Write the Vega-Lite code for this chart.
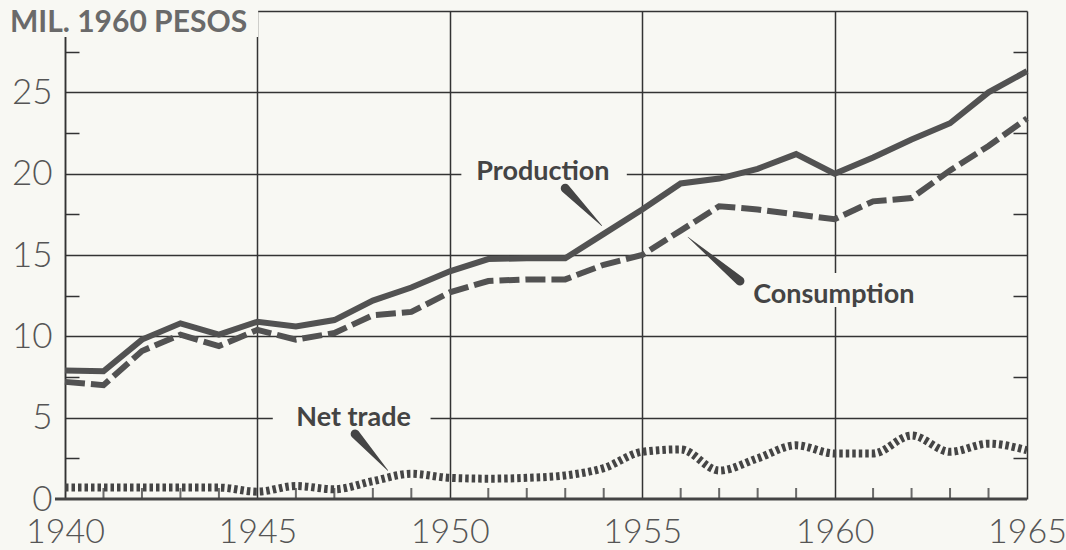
{
  "$schema": "https://vega.github.io/schema/vega-lite/v6.json",
  "width": 962,
  "height": 488,
  "autosize": {"type": "none"},
  "padding": {"left": 65, "top": 11, "right": 39, "bottom": 51},
  "background": "#f8f8f3",
  "config": {"view": {"stroke": null}},
  "datasets": {
    "series": [
      {"year": 1940, "series": "Production", "value": 7.9},
      {"year": 1941, "series": "Production", "value": 7.85},
      {"year": 1942, "series": "Production", "value": 9.8},
      {"year": 1943, "series": "Production", "value": 10.8},
      {"year": 1944, "series": "Production", "value": 10.1},
      {"year": 1945, "series": "Production", "value": 10.9},
      {"year": 1946, "series": "Production", "value": 10.6},
      {"year": 1947, "series": "Production", "value": 11.0},
      {"year": 1948, "series": "Production", "value": 12.2},
      {"year": 1949, "series": "Production", "value": 13.0},
      {"year": 1950, "series": "Production", "value": 14.0},
      {"year": 1951, "series": "Production", "value": 14.75},
      {"year": 1952, "series": "Production", "value": 14.8},
      {"year": 1953, "series": "Production", "value": 14.8},
      {"year": 1954, "series": "Production", "value": 16.3},
      {"year": 1955, "series": "Production", "value": 17.8},
      {"year": 1956, "series": "Production", "value": 19.4},
      {"year": 1957, "series": "Production", "value": 19.7},
      {"year": 1958, "series": "Production", "value": 20.3},
      {"year": 1959, "series": "Production", "value": 21.2},
      {"year": 1960, "series": "Production", "value": 20.0},
      {"year": 1961, "series": "Production", "value": 21.0},
      {"year": 1962, "series": "Production", "value": 22.1},
      {"year": 1963, "series": "Production", "value": 23.1},
      {"year": 1964, "series": "Production", "value": 25.0},
      {"year": 1965, "series": "Production", "value": 26.3},
      {"year": 1940, "series": "Consumption", "value": 7.2},
      {"year": 1941, "series": "Consumption", "value": 7.0},
      {"year": 1942, "series": "Consumption", "value": 9.1},
      {"year": 1943, "series": "Consumption", "value": 10.1},
      {"year": 1944, "series": "Consumption", "value": 9.4},
      {"year": 1945, "series": "Consumption", "value": 10.4},
      {"year": 1946, "series": "Consumption", "value": 9.8},
      {"year": 1947, "series": "Consumption", "value": 10.2},
      {"year": 1948, "series": "Consumption", "value": 11.3},
      {"year": 1949, "series": "Consumption", "value": 11.5},
      {"year": 1950, "series": "Consumption", "value": 12.7},
      {"year": 1951, "series": "Consumption", "value": 13.4},
      {"year": 1952, "series": "Consumption", "value": 13.5},
      {"year": 1953, "series": "Consumption", "value": 13.5},
      {"year": 1954, "series": "Consumption", "value": 14.4},
      {"year": 1955, "series": "Consumption", "value": 15.0},
      {"year": 1956, "series": "Consumption", "value": 16.5},
      {"year": 1957, "series": "Consumption", "value": 18.0},
      {"year": 1958, "series": "Consumption", "value": 17.8},
      {"year": 1959, "series": "Consumption", "value": 17.5},
      {"year": 1960, "series": "Consumption", "value": 17.2},
      {"year": 1961, "series": "Consumption", "value": 18.3},
      {"year": 1962, "series": "Consumption", "value": 18.5},
      {"year": 1963, "series": "Consumption", "value": 20.2},
      {"year": 1964, "series": "Consumption", "value": 21.7},
      {"year": 1965, "series": "Consumption", "value": 23.4},
      {"year": 1940, "series": "Net trade", "value": 0.7},
      {"year": 1941, "series": "Net trade", "value": 0.7},
      {"year": 1942, "series": "Net trade", "value": 0.7},
      {"year": 1943, "series": "Net trade", "value": 0.7},
      {"year": 1944, "series": "Net trade", "value": 0.7},
      {"year": 1945, "series": "Net trade", "value": 0.45},
      {"year": 1946, "series": "Net trade", "value": 0.8},
      {"year": 1947, "series": "Net trade", "value": 0.6},
      {"year": 1948, "series": "Net trade", "value": 1.1},
      {"year": 1949, "series": "Net trade", "value": 1.55},
      {"year": 1950, "series": "Net trade", "value": 1.3},
      {"year": 1951, "series": "Net trade", "value": 1.25},
      {"year": 1952, "series": "Net trade", "value": 1.3},
      {"year": 1953, "series": "Net trade", "value": 1.45},
      {"year": 1954, "series": "Net trade", "value": 1.9},
      {"year": 1955, "series": "Net trade", "value": 2.9},
      {"year": 1956, "series": "Net trade", "value": 3.05},
      {"year": 1957, "series": "Net trade", "value": 1.75},
      {"year": 1958, "series": "Net trade", "value": 2.5},
      {"year": 1959, "series": "Net trade", "value": 3.3},
      {"year": 1960, "series": "Net trade", "value": 2.8},
      {"year": 1961, "series": "Net trade", "value": 2.8},
      {"year": 1962, "series": "Net trade", "value": 3.9},
      {"year": 1963, "series": "Net trade", "value": 2.9},
      {"year": 1964, "series": "Net trade", "value": 3.4},
      {"year": 1965, "series": "Net trade", "value": 3.0}
    ],
    "masks": [
      {"name": "title", "year": 1938.3, "year2": 1945.02, "value": 28.4, "value2": 30.6},
      {"name": "Production", "year": 1950.3, "year2": 1954.6, "value": 19.5, "value2": 20.6},
      {"name": "Consumption", "year": 1957.5, "year2": 1962.5, "value": 11.8, "value2": 13.9},
      {"name": "Net trade", "year": 1945.4, "year2": 1949.5, "value": 4.5, "value2": 5.5}
    ],
    "notes": [
      {"label": "Production", "year": 1952.42, "value": 20.1},
      {"label": "Consumption", "year": 1959.98, "value": 12.54},
      {"label": "Net trade", "year": 1947.5, "value": 4.98}
    ],
    "pointers": [
      {"ptr": "Production", "end": "wide", "year": 1953.0, "value": 19.1},
      {"ptr": "Production", "end": "tip", "year": 1953.95, "value": 16.8},
      {"ptr": "Consumption", "end": "tip", "year": 1956.19, "value": 16.1},
      {"ptr": "Consumption", "end": "wide", "year": 1957.54, "value": 13.4},
      {"ptr": "Net trade", "end": "wide", "year": 1947.54, "value": 4.0},
      {"ptr": "Net trade", "end": "tip", "year": 1948.39, "value": 1.75}
    ],
    "title": [
      {"label": "MIL. 1960 PESOS", "year": 1938.57, "value": 29.26}
    ],
    "baseline": [
      {"year": 1939.74, "year2": 1965, "value": 0}
    ],
    "minor": [
      {"year": 1941}, {"year": 1942}, {"year": 1943}, {"year": 1944},
      {"year": 1946}, {"year": 1947}, {"year": 1948}, {"year": 1949},
      {"year": 1951}, {"year": 1952}, {"year": 1953}, {"year": 1954},
      {"year": 1956}, {"year": 1957}, {"year": 1958}, {"year": 1959},
      {"year": 1961}, {"year": 1962}, {"year": 1963}, {"year": 1964}
    ]
  },
  "encoding": {
    "x": {
      "field": "year", "type": "quantitative",
      "scale": {"domain": [1940, 1965], "nice": false, "zero": false},
      "axis": {
        "title": null,
        "values": [1940,1945,1950,1955,1960,1965],
        "format": "d",
        "labelOverlap": false,
        "labelFlush": false,
        "labelBound": false,
        "labelFont": "Lato",
        "labelFontWeight": 300,
        "labelFontSize": 34,
        "labelColor": "#555555",
        "labelPadding": 16,
        "grid": true,
        "gridColor": "#333333",
        "gridWidth": 1.5,
        "ticks": false,
        "domain": false
      }
    }
  },
  "layer": [
    {
      "data": {"name": "masks"},
      "mark": {"type": "rect", "color": "#f8f8f3"},
      "encoding": {
        "x2": {"field": "year2"},
        "y": {"field": "value", "type": "quantitative", "scale": {"domain": [0, 30], "nice": false}, "axis": null},
        "y2": {"field": "value2"}
      }
    },
    {
      "data": {"name": "series"},
      "transform": [{"filter": "datum.series === 'Production'"}],
      "mark": {"type": "line", "color": "#525252", "strokeWidth": 6},
      "encoding": {
        "y": {
          "field": "value", "type": "quantitative",
          "scale": {"domain": [0, 30], "nice": false},
          "axis": {
            "title": null,
            "orient": "left",
            "values": [0,2.5,5,7.5,10,12.5,15,17.5,20,22.5,25,27.5,30],
            "labelExpr": "datum.value % 5 === 0 && datum.value < 30 ? '' + datum.value : ''",
            "labelOverlap": false,
            "labelFlush": false,
            "labelBound": false,
            "labelFont": "Lato",
            "labelFontWeight": 300,
            "labelFontSize": 35,
            "labelColor": "#555555",
            "labelPadding": 27,
            "grid": true,
            "gridColor": "#333333",
            "gridWidth": 1.5,
            "gridOpacity": {"condition": {"test": "datum.value % 5 === 0 && datum.value > 0", "value": 1}, "value": 0},
            "ticks": true,
            "tickSize": -14,
            "tickColor": "#333333",
            "tickWidth": 1.5,
            "tickOpacity": {"condition": {"test": "datum.value % 5 === 0", "value": 0}, "value": 1},
            "domain": true,
            "domainColor": "#333333",
            "domainWidth": 1.5
          }
        }
      }
    },
    {
      "data": {"name": "minor"},
      "mark": {"type": "tick", "orient": "vertical", "thickness": 2, "size": 11, "color": "#2e2e2e", "yOffset": -5.5},
      "encoding": {
        "y": {"datum": 0, "type": "quantitative", "scale": {"domain": [0, 30], "nice": false}, "axis": null}
      }
    },
    {
      "data": {"name": "baseline"},
      "mark": {"type": "rule", "color": "#444444", "strokeWidth": 3},
      "encoding": {
        "x2": {"field": "year2"},
        "y": {"field": "value", "type": "quantitative", "scale": {"domain": [0, 30], "nice": false}, "axis": null}
      }
    },
    {
      "data": {"name": "series"},
      "transform": [{"filter": "datum.series === 'Consumption'"}],
      "mark": {"type": "line", "color": "#525252", "strokeWidth": 6, "strokeDash": [20, 6]},
      "encoding": {
        "y": {
          "field": "value", "type": "quantitative",
          "scale": {"domain": [0, 30], "nice": false},
          "axis": {
            "title": null,
            "orient": "right",
            "values": [2.5,7.5,12.5,17.5,22.5,27.5],
            "labels": false,
            "grid": false,
            "domain": false,
            "ticks": true,
            "tickSize": -14,
            "tickColor": "#333333",
            "tickWidth": 1.5
          }
        }
      }
    },
    {
      "data": {"name": "series"},
      "transform": [{"filter": "datum.series === 'Net trade'"}],
      "mark": {"type": "line", "color": "#454545", "strokeWidth": 8, "strokeDash": [3.5, 3], "interpolate": "monotone"},
      "encoding": {
        "y": {"field": "value", "type": "quantitative", "scale": {"domain": [0, 30], "nice": false}, "axis": null}
      }
    },
    {
      "data": {"name": "pointers"},
      "mark": {"type": "trail", "color": "#454545"},
      "encoding": {
        "y": {"field": "value", "type": "quantitative", "scale": {"domain": [0, 30], "nice": false}, "axis": null},
        "detail": {"field": "ptr"},
        "size": {"field": "end", "type": "nominal", "scale": {"domain": ["wide", "tip"], "range": [9, 0.5]}, "legend": null}
      }
    },
    {
      "data": {"name": "notes"},
      "mark": {"type": "text", "font": "Lato", "fontWeight": "bold", "fontSize": 27, "color": "#444444", "align": "center", "baseline": "middle", "letterSpacing": 2.6},
      "encoding": {
        "y": {"field": "value", "type": "quantitative", "scale": {"domain": [0, 30], "nice": false}, "axis": null},
        "text": {"field": "label"}
      }
    },
    {
      "data": {"name": "title"},
      "mark": {"type": "text", "font": "Lato", "fontWeight": "bold", "fontSize": 30, "color": "#6a6a6a", "align": "left", "baseline": "middle", "letterSpacing": 5.8},
      "encoding": {
        "y": {"field": "value", "type": "quantitative", "scale": {"domain": [0, 30], "nice": false}, "axis": null},
        "text": {"field": "label"}
      }
    }
  ],
  "resolve": {"axis": {"y": "independent"}}
}
